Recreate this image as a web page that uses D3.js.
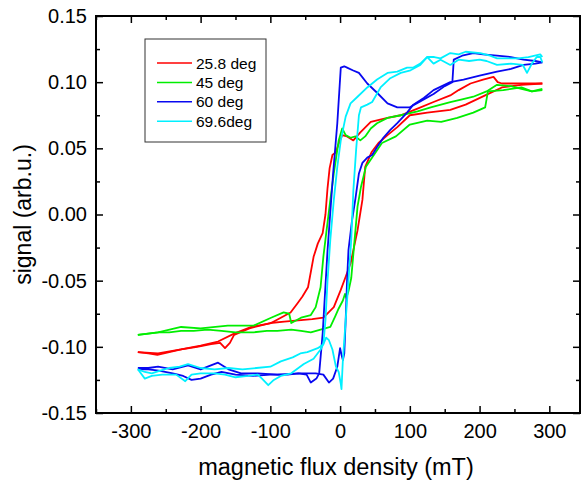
<!DOCTYPE html>
<meta charset="utf-8" />
<head>
  <script src="https://d3js.org/d3.v7.min.js"></script>
  <style>
    body { margin: 0; background: #fff; }
    text { font-family: Arial, "Liberation Sans", sans-serif; fill: #000; }
  </style>
</head>
<body>
  <div id="chart"></div>
</body>
<script>
  // legend labels and colours
  const labels = ["25.8 deg", "45 deg", "60 deg", "69.6deg"];
  const colors = ["#ff0000", "#00ee00", "#0808f0", "#00f0ff"];

  const xTicks = [-300, -200, -100, 0, 100, 200, 300];
  const yTicks = [-0.15, -0.1, -0.05, 0, 0.05, 0.1, 0.15];

  // [field (mT), signal]  up = field increasing, down = field decreasing
  const red258Up = [[-290,-0.104],[-275,-0.105],[-262,-0.106],[-245,-0.104],[-228,-0.102],[-205,-0.100],[-185,-0.098],[-172,-0.097],[-165,-0.101],[-158,-0.097],[-152,-0.091],[-130,-0.086],[-100,-0.082],[-80,-0.081],[-60,-0.080],[-40,-0.079],[-24,-0.078],[-9,-0.070],[1,-0.057],[8,-0.047],[15,-0.037],[19,-0.027],[25,-0.012],[32,0.011],[36,0.036],[45,0.047],[55,0.054],[68,0.060],[82,0.066],[100,0.075],[125,0.077],[158,0.079],[180,0.083],[208,0.090],[232,0.096],[260,0.098],[290,0.099]];
  const red258Down = [[290,0.099],[270,0.099],[250,0.099],[232,0.099],[226,0.100],[220,0.104],[205,0.102],[187,0.099],[170,0.094],[158,0.090],[134,0.085],[111,0.080],[87,0.075],[68,0.073],[44,0.070],[29,0.062],[19,0.056],[10,0.059],[3,0.060],[-3,0.052],[-6,0.047],[-11,0.045],[-15,0.035],[-18,0.020],[-21,0.000],[-25,-0.014],[-32,-0.022],[-38,-0.032],[-46,-0.055],[-54,-0.062],[-61,-0.067],[-71,-0.074],[-85,-0.078],[-99,-0.082],[-128,-0.085],[-152,-0.090],[-175,-0.096],[-200,-0.099],[-228,-0.102],[-261,-0.105],[-290,-0.104]];

  const green45Up = [[-290,-0.091],[-275,-0.090],[-261,-0.089],[-245,-0.089],[-228,-0.088],[-210,-0.088],[-190,-0.087],[-170,-0.088],[-150,-0.089],[-124,-0.089],[-105,-0.088],[-90,-0.088],[-70,-0.087],[-56,-0.088],[-42,-0.089],[-28,-0.087],[-14,-0.085],[-7,-0.077],[-2,-0.071],[4,-0.065],[7,-0.060],[9,-0.063],[12,-0.058],[16,-0.048],[19,-0.030],[22,-0.012],[25,0.006],[30,0.021],[37,0.036],[46,0.043],[60,0.054],[80,0.059],[100,0.068],[125,0.071],[145,0.070],[168,0.073],[191,0.077],[208,0.081],[212,0.093],[234,0.094],[260,0.096],[275,0.093],[290,0.095]];
  const green45Down = [[290,0.094],[275,0.093],[260,0.095],[245,0.097],[225,0.098],[210,0.093],[191,0.089],[175,0.087],[158,0.085],[130,0.081],[111,0.078],[87,0.075],[68,0.073],[53,0.069],[44,0.065],[36,0.059],[29,0.056],[22,0.059],[15,0.058],[8,0.060],[3,0.065],[-2,0.056],[-9,0.031],[-14,0.011],[-21,-0.019],[-24,-0.032],[-28,-0.055],[-35,-0.070],[-42,-0.076],[-56,-0.078],[-70,-0.082],[-73,-0.075],[-81,-0.074],[-99,-0.078],[-124,-0.084],[-161,-0.084],[-200,-0.086],[-228,-0.085],[-261,-0.089],[-290,-0.091]];

  const blue60Up = [[-290,-0.116],[-275,-0.116],[-261,-0.115],[-240,-0.117],[-218,-0.114],[-200,-0.117],[-175,-0.112],[-160,-0.117],[-142,-0.120],[-118,-0.120],[-90,-0.121],[-57,-0.120],[-35,-0.120],[-24,-0.121],[-16,-0.127],[-10,-0.124],[-4,-0.115],[0,-0.101],[2,-0.106],[4,-0.110],[6,-0.105],[8,-0.080],[10,-0.050],[12,-0.027],[17,-0.005],[22,0.012],[27,0.031],[32,0.039],[39,0.043],[46,0.045],[53,0.051],[62,0.058],[72,0.064],[82,0.069],[96,0.077],[105,0.083],[120,0.088],[134,0.094],[158,0.100],[177,0.102],[200,0.105],[225,0.108],[245,0.110],[263,0.113],[280,0.114],[290,0.115]];
  const blue60Down = [[290,0.115],[280,0.116],[263,0.117],[245,0.119],[225,0.120],[205,0.121],[191,0.122],[175,0.120],[163,0.117],[161,0.100],[150,0.097],[134,0.091],[120,0.087],[100,0.081],[82,0.081],[68,0.084],[53,0.092],[39,0.099],[27,0.107],[18,0.109],[10,0.111],[6,0.112],[1,0.111],[-4,0.069],[-10,0.031],[-18,-0.027],[-25,-0.090],[-30,-0.120],[-34,-0.124],[-42,-0.127],[-48,-0.121],[-60,-0.120],[-75,-0.121],[-100,-0.121],[-125,-0.122],[-150,-0.121],[-170,-0.119],[-185,-0.121],[-200,-0.124],[-213,-0.125],[-225,-0.122],[-240,-0.120],[-260,-0.118],[-275,-0.117],[-290,-0.117]];

  const cyan696Up = [[-290,-0.117],[-280,-0.119],[-270,-0.120],[-258,-0.118],[-245,-0.116],[-230,-0.115],[-218,-0.113],[-200,-0.116],[-180,-0.117],[-160,-0.116],[-140,-0.117],[-120,-0.116],[-100,-0.115],[-85,-0.111],[-68,-0.108],[-57,-0.105],[-47,-0.104],[-32,-0.101],[-24,-0.098],[-20,-0.093],[-16,-0.095],[-11,-0.102],[-6,-0.115],[-2,-0.119],[1,-0.128],[2,-0.132],[4,-0.110],[8,-0.080],[12,-0.050],[16,-0.019],[19,0.018],[23,0.049],[27,0.075],[30,0.081],[39,0.083],[46,0.085],[58,0.096],[72,0.103],[87,0.107],[101,0.109],[115,0.113],[125,0.119],[135,0.119],[144,0.118],[158,0.122],[170,0.121],[180,0.123],[201,0.122],[215,0.120],[225,0.118],[240,0.118],[255,0.118],[270,0.119],[287,0.121],[290,0.119]];
  const cyan696Down = [[290,0.115],[287,0.119],[282,0.119],[275,0.114],[268,0.107],[262,0.113],[245,0.114],[225,0.113],[210,0.116],[200,0.117],[185,0.116],[170,0.117],[158,0.113],[144,0.117],[134,0.114],[125,0.119],[115,0.114],[105,0.111],[96,0.111],[82,0.108],[68,0.107],[53,0.102],[39,0.096],[25,0.089],[15,0.084],[8,0.074],[1,0.056],[-4,0.036],[-9,0.011],[-14,-0.019],[-18,-0.050],[-21,-0.080],[-24,-0.098],[-28,-0.102],[-38,-0.109],[-52,-0.113],[-70,-0.120],[-85,-0.122],[-95,-0.125],[-103,-0.129],[-112,-0.124],[-118,-0.121],[-132,-0.122],[-150,-0.123],[-165,-0.121],[-180,-0.120],[-200,-0.120],[-213,-0.121],[-222,-0.126],[-235,-0.121],[-255,-0.121],[-270,-0.122],[-280,-0.124],[-290,-0.117]];

  const loops = [
    [red258Up, red258Down],
    [green45Up, green45Down],
    [blue60Up, blue60Down],
    [cyan696Up, cyan696Down],
  ];

  var W = 582, H = 485;
  var margin = { top: 16, right: 2, bottom: 72, left: 96 };
  var width = W - margin.left - margin.right;
  var height = H - margin.top - margin.bottom;

  var svg = d3
    .select("#chart")
    .append("svg")
    .attr("width", W)
    .attr("height", H)
    .append("g")
    .attr("transform", "translate(" + margin.left + "," + margin.top + ")");

  var x = d3.scaleLinear().domain([-350, 344]).range([0, width]);
  var y = d3.scaleLinear().domain([-0.15, 0.15]).range([height, 0]);

  var xMinor = d3.range(-350, 351, 50).filter((v) => v % 100 !== 0);
  var yMinor = d3.range(-0.125, 0.13, 0.05);

  // inward ticks on all four sides
  function tickAxis(axis, g) {
    g.call(axis);
    g.select(".domain").remove();
    g.selectAll(".tick line").attr("stroke", "#000").attr("stroke-width", 1.5);
  }

  var bottom = svg.append("g").attr("transform", "translate(0," + height + ")");
  tickAxis(d3.axisBottom(x).tickValues(xTicks).tickSize(-7).tickPadding(11).tickFormat((d) => String(d)), bottom);
  tickAxis(d3.axisBottom(x).tickValues(xMinor).tickSize(-4).tickFormat(""), svg.append("g").attr("transform", "translate(0," + height + ")"));
  tickAxis(d3.axisTop(x).tickValues(xTicks).tickSize(-7).tickFormat(""), svg.append("g"));
  tickAxis(d3.axisTop(x).tickValues(xMinor).tickSize(-4).tickFormat(""), svg.append("g"));

  var left = svg.append("g");
  tickAxis(d3.axisLeft(y).tickValues(yTicks).tickSize(-7).tickPadding(9).tickFormat((d) => d.toFixed(2)), left);
  tickAxis(d3.axisLeft(y).tickValues(yMinor).tickSize(-4).tickFormat(""), svg.append("g"));
  tickAxis(d3.axisRight(y).tickValues(yTicks).tickSize(-7).tickFormat(""), svg.append("g").attr("transform", "translate(" + width + ",0)"));
  tickAxis(d3.axisRight(y).tickValues(yMinor).tickSize(-4).tickFormat(""), svg.append("g").attr("transform", "translate(" + width + ",0)"));

  svg.selectAll(".tick text").style("font-size", "20px").style("font-family", "Arial, 'Liberation Sans', sans-serif");

  var line = d3
    .line()
    .x((d) => x(d[0]))
    .y((d) => y(d[1]));

  loops.forEach((branches, i) => {
    branches.forEach((b) => {
      svg
        .append("path")
        .datum(b)
        .attr("fill", "none")
        .attr("stroke", colors[i])
        .attr("stroke-width", 1.8)
        .attr("stroke-linejoin", "round")
        .attr("d", line);
    });
  });

  // frame
  svg
    .append("rect")
    .attr("width", width)
    .attr("height", height)
    .attr("fill", "none")
    .attr("stroke", "#000")
    .attr("stroke-width", 2);

  // legend
  var lg = svg.append("g").attr("transform", "translate(" + (145 - margin.left) + "," + (39 - margin.top) + ")");
  lg.append("rect")
    .attr("width", 121)
    .attr("height", 103)
    .attr("fill", "#fff")
    .attr("stroke", "#333")
    .attr("stroke-width", 1);
  labels.forEach((lab, i) => {
    var yy = 24 + i * 19.4;
    lg.append("line")
      .attr("x1", 12)
      .attr("x2", 47)
      .attr("y1", yy)
      .attr("y2", yy)
      .attr("stroke", colors[i])
      .attr("stroke-width", 1.5);
    lg.append("text")
      .attr("x", 51)
      .attr("y", yy + 5.5)
      .style("font-size", "15.5px")
      .text(lab);
  });

  // axis titles
  svg
    .append("text")
    .attr("x", width / 2 - 2)
    .attr("y", height + 62)
    .style("text-anchor", "middle")
    .style("font-size", "23.5px")
    .text("magnetic flux density (mT)");

  svg
    .append("text")
    .attr("transform", "translate(" + (31 - margin.left) + "," + height / 2 + ") rotate(-90)")
    .style("text-anchor", "middle")
    .style("font-size", "23px")
    .text("signal (arb.u.)");
</script>
